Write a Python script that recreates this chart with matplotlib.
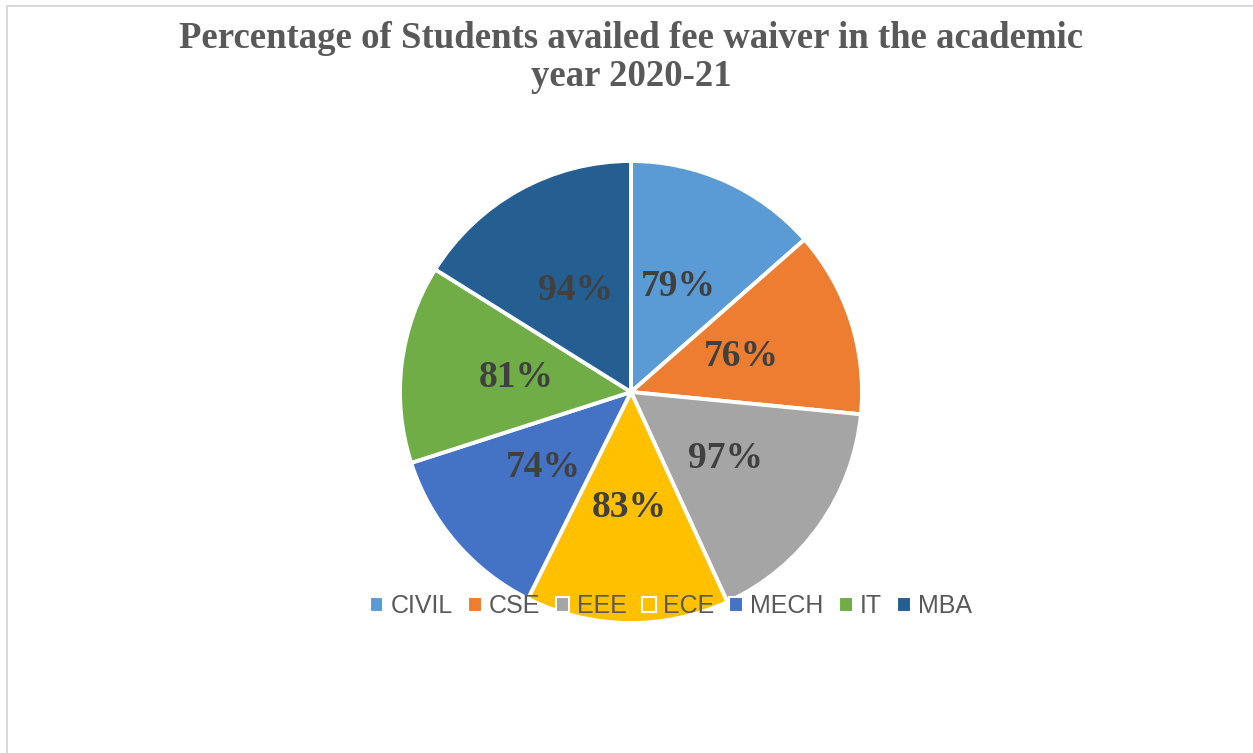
import matplotlib.pyplot as plt
from matplotlib.lines import Line2D

branches = ["CIVIL", "CSE", "EEE", "ECE", "MECH", "IT", "MBA"]
percent = [79, 76, 97, 83, 74, 81, 94]
colors = ["#5B9BD5", "#ED7D31", "#A5A5A5", "#FFC000", "#4472C4", "#70AD47", "#255E91"]

W, H = 1253, 753
fig = plt.figure(figsize=(W / 100, H / 100), dpi=100)

# thin border like the office chart frame
fig.add_artist(Line2D([7 / W, 7 / W], [0, 1 - 6 / H], color="#d9d9d9", lw=1.5))
fig.add_artist(Line2D([7 / W, 1], [1 - 6 / H, 1 - 6 / H], color="#d9d9d9", lw=1.5))

fig.text(631 / W, 1 - 86 / H,
         "Percentage of Students availed fee waiver in the academic\nyear 2020-21",
         ha="center", va="baseline", fontsize=26.5, fontweight="bold",
         family="Liberation Serif", color="#595959", linespacing=1.1)

# pie centre and radius in pixels
cx, cy, r = 631, 392, 231
ax = fig.add_axes([(cx - r) / W, 1 - (cy + r) / H, 2 * r / W, 2 * r / H])
wedges, texts, autotexts = ax.pie(
    percent, colors=colors, startangle=90, counterclock=False,
    autopct=lambda p: "", pctdistance=0.5,
    wedgeprops=dict(edgecolor="white", linewidth=2.8))
for at, v in zip(autotexts, percent):
    at.set_text(f"{v}%")
    at.set_fontsize(27)
    at.set_fontweight("bold")
    at.set_family("Liberation Serif")
    at.set_color("#404040")
ax.set_xlim(-1, 1)
ax.set_ylim(-1, 1)
ax.set_aspect("equal")

handles = [plt.Rectangle((0, 0), 1, 1, facecolor=c, edgecolor="white", linewidth=1.5)
           for c in colors]
leg = fig.legend(handles, branches, loc="center", ncol=7,
                 bbox_to_anchor=(671 / W, 1 - 606 / H), frameon=False,
                 prop={"family": "Liberation Sans", "size": 18},
                 handlelength=0.55, handleheight=0.55, handletextpad=0.3,
                 columnspacing=0.6, labelcolor="#595959")

fig.savefig("out.png", dpi=100)
